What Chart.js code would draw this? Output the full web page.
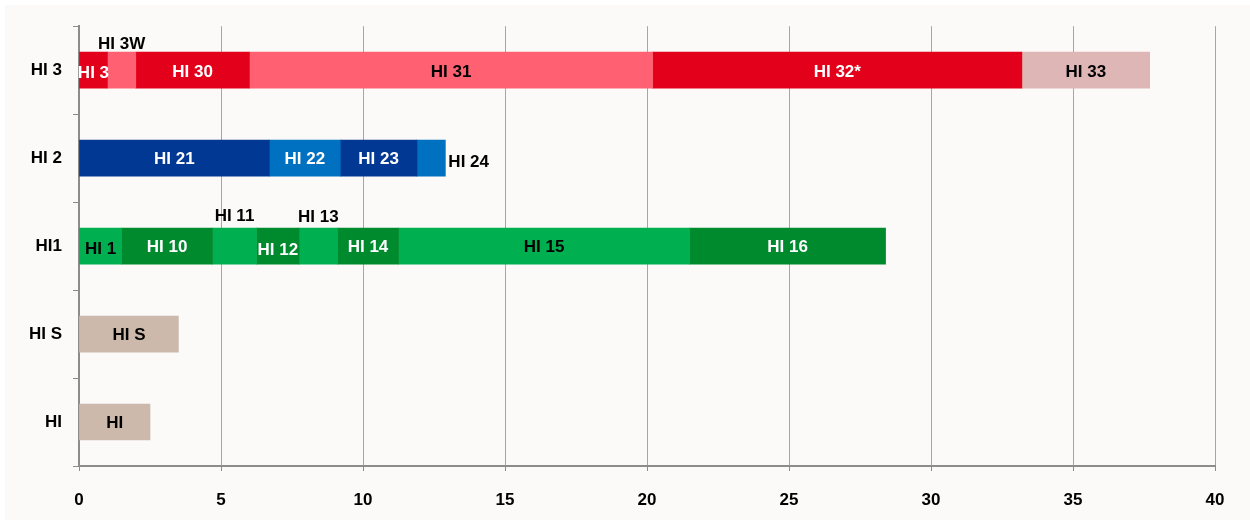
<!DOCTYPE html>
<html>
<head>
<meta charset="utf-8">
<script src="https://cdn.jsdelivr.net/npm/chart.js@4.4.1/dist/chart.umd.min.js"></script>
<style>
  html, body { margin: 0; padding: 0; background: #ffffff; }
  #wrap { position: absolute; left: 5px; top: 5px; width: 1245px; height: 515px; background: #fbfaf8; }
</style>
</head>
<body>
<div id="wrap"><canvas id="canvas"></canvas></div>
<script>
'use strict';

// categories on the y axis, top to bottom
let categories = ['HI 3', 'HI 2', 'HI1', 'HI S', 'HI'];

// segments of each bar, left to right
let hi3Names = ['HI 3', 'HI 3W', 'HI 30', 'HI 31', 'HI 32*', 'HI 33'];
let hi3Values = [1.0, 1.0, 4.0, 14.2, 13.0, 4.5];

let hi2Names = ['HI 21', 'HI 22', 'HI 23', 'HI 24'];
let hi2Values = [6.7, 2.5, 2.7, 1.0];

let hi1Names = ['HI 1', 'HI 10', 'HI 11', 'HI 12', 'HI 13', 'HI 14', 'HI 15', 'HI 16'];
let hi1Values = [1.5, 3.2, 1.55, 1.5, 1.35, 2.15, 10.25, 6.9];

let hiSNames = ['HI S'];
let hiSValues = [3.5];

let hiNames = ['HI'];
let hiValues = [2.5];

let xMin = 0;
let xMax = 40;
let xStep = 5;

// styles
let RED = '#e3001b';
let PINK = '#ff6173';
let ROSE = '#dfb6b6';
let NAVY = '#003893';
let BLUE = '#0070c0';
let GREEN = '#00b050';
let DKGREEN = '#008a2e';
let TAN = '#cdb9ab';

let rowColors = [
  [RED, PINK, RED, PINK, RED, ROSE],
  [NAVY, BLUE, NAVY, BLUE],
  [GREEN, DKGREEN, GREEN, DKGREEN, GREEN, DKGREEN, GREEN, DKGREEN],
  [TAN],
  [TAN]
];
// label placement: c = centred in bar, a = above bar, r = right of bar
let rowPlace = [
  ['c', 'a', 'c', 'c', 'c', 'c'],
  ['c', 'c', 'c', 'r'],
  ['c', 'c', 'a', 'c', 'a', 'c', 'c', 'c'],
  ['c'],
  ['c']
];
let rowInk = [
  ['#fff', '#000', '#fff', '#000', '#fff', '#000'],
  ['#fff', '#fff', '#fff', '#000'],
  ['#000', '#fff', '#000', '#fff', '#000', '#fff', '#000', '#fff'],
  ['#000'],
  ['#000']
];
let rowDy = [
  [3, -8, 2, 2, 2, 2],
  [1, 1, 1, 4],
  [3, 1, -12, 4, -11, 1, 1, 1],
  [1],
  [1]
];

let rows = [
  [hi3Names, hi3Values],
  [hi2Names, hi2Values],
  [hi1Names, hi1Values],
  [hiSNames, hiSValues],
  [hiNames, hiValues]
];

let datasets = [];
rows.forEach((row, r) => {
  row[0].forEach((name, i) => {
    datasets.push({
      label: name,
      data: categories.map((c, k) => (k === r ? row[1][i] : null)),
      backgroundColor: rowColors[r][i],
      borderWidth: 0,
      barThickness: 36,
      stack: 'all',
      rowIdx: r,
      segIdx: i
    });
  });
});

let FONT = '"Liberation Sans", Arial, sans-serif';

let segmentLabels = {
  id: 'segmentLabels',
  afterDatasetsDraw(chart) {
    let ctx = chart.ctx;
    ctx.save();
    ctx.font = 'bold 17px ' + FONT;
    chart.data.datasets.forEach((ds, d) => {
      let bar = chart.getDatasetMeta(d).data[ds.rowIdx];
      if (!bar) return;
      let r = ds.rowIdx, i = ds.segIdx;
      let place = rowPlace[r][i];
      let x0 = Math.min(bar.x, bar.base), x1 = Math.max(bar.x, bar.base);
      let y = bar.y + rowDy[r][i];
      ctx.fillStyle = rowInk[r][i];
      ctx.textBaseline = 'middle';
      if (place === 'r') {
        ctx.textAlign = 'left';
        ctx.fillText(ds.label, x1 + 3, y);
      } else if (place === 'a') {
        ctx.textAlign = 'center';
        ctx.fillText(ds.label, (x0 + x1) / 2, bar.y - bar.height / 2 + rowDy[r][i]);
      } else {
        ctx.textAlign = 'center';
        ctx.fillText(ds.label, (x0 + x1) / 2, y);
      }
    });
    ctx.restore();
  }
};

let canvas = document.getElementById('canvas');

new Chart(canvas, {
  type: 'bar',
  data: {
    labels: categories,
    datasets: datasets
  },
  options: {
    indexAxis: 'y',
    responsive: true,
    maintainAspectRatio: false,
    animation: false,
    layout: {
      padding: { left: 0, right: 35, top: 20, bottom: 0 }
    },
    plugins: {
      legend: { display: false },
      tooltip: { enabled: false }
    },
    scales: {
      x: {
        stacked: true,
        min: xMin,
        max: xMax,
        afterFit(scale) { scale.height = 54; },
        ticks: {
          stepSize: xStep,
          color: '#000',
          padding: 19,
          font: { family: FONT, size: 17, weight: 'bold' }
        },
        grid: {
          color: '#a6a6a6',
          lineWidth: 1,
          drawTicks: true,
          tickLength: 5,
          tickColor: '#8c8c8c'
        },
        border: { display: true, color: '#8c8c8c', width: 2 }
      },
      y: {
        stacked: true,
        afterFit(scale) { scale.width = 74; },
        ticks: {
          color: '#000',
          padding: 11,
          font: { family: FONT, size: 17, weight: 'bold' }
        },
        grid: {
          drawOnChartArea: false,
          drawTicks: true,
          tickLength: 6,
          color: '#8c8c8c',
          lineWidth: 1
        },
        border: { display: true, color: '#8c8c8c', width: 2 }
      }
    }
  },
  plugins: [segmentLabels]
});
</script>
</body>
</html>
